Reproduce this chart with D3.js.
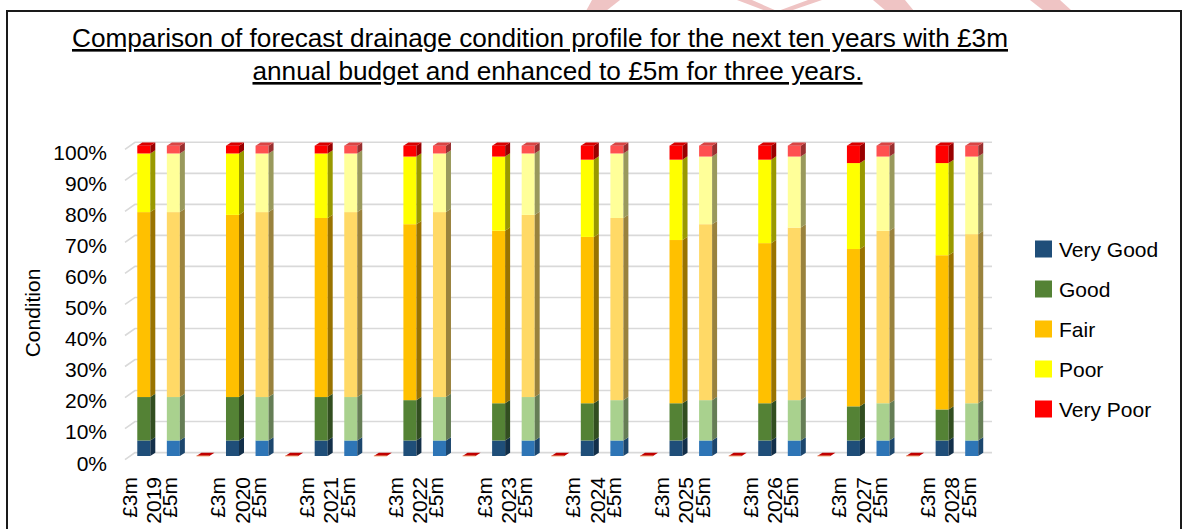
<!DOCTYPE html>
<html>
<head>
<meta charset="utf-8">
<script src="https://cdnjs.cloudflare.com/ajax/libs/d3/7.8.5/d3.min.js"></script>
<style>
  body { margin: 0; background: #fff; }
  svg { display: block; font-family: "Liberation Sans", Arial, sans-serif; }
</style>
</head>
<body>
<div id="chart"></div>
<script>
'use strict';

const years = [2019, 2020, 2021, 2022, 2023, 2024, 2025, 2026, 2027, 2028];
const budgets = ['£3m', '£5m'];
const conditions = ['Very Good', 'Good', 'Fair', 'Poor', 'Very Poor'];

// % of network in each condition, £3m budget
const veryGood3m = [5, 5, 5, 5, 5, 5, 5, 5, 5, 5];
const good3m = [14, 14, 14, 13, 12, 12, 12, 12, 11, 10];
const fair3m = [59.6, 58.7, 57.7, 56.7, 55.6, 53.6, 52.6, 51.6, 50.7, 49.7];
const poor3m = [18.9, 19.8, 20.8, 21.8, 23.9, 24.9, 25.9, 26.9, 27.7, 29.7];
const veryPoor3m = [2.5, 2.5, 2.5, 3.5, 3.5, 4.5, 4.5, 4.5, 5.6, 5.6];

// £5m budget
const veryGood5m = [5, 5, 5, 5, 5, 5, 5, 5, 5, 5];
const good5m = [14, 14, 14, 14, 14, 13, 13, 13, 12, 12];
const fair5m = [59.6, 59.6, 59.6, 59.6, 58.7, 58.7, 56.7, 55.6, 55.6, 54.5];
const poor5m = [18.9, 18.9, 18.9, 18.9, 19.8, 20.8, 21.8, 22.9, 23.9, 25];
const veryPoor5m = [2.5, 2.5, 2.5, 2.5, 2.5, 2.5, 3.5, 3.5, 3.5, 3.5];

const yTicks = [0, 10, 20, 30, 40, 50, 60, 70, 80, 90, 100];

const colors3m = ['#1f4e79', '#548235', '#ffc000', '#ffff00', '#ff0000'];
const colors5m = ['#2e75b6', '#a9d18e', '#ffd966', '#ffff99', '#ff5050'];

const series = {
  '£3m': [veryGood3m, good3m, fair3m, poor3m, veryPoor3m],
  '£5m': [veryGood5m, good5m, fair5m, poor5m, veryPoor5m],
};

const W = 1187;
const H = 529;
const depthX = 5;
const depthY = -3.3;
const fontSize = 21;

const shade = (c, k) => {
  const r = d3.rgb(c);
  return d3.rgb(r.r * k, r.g * k, r.b * k).formatHex();
};

// slots: £3m, £5m, empty gap between years
const slots = [];
years.forEach((yr, i) => {
  budgets.forEach((b) => slots.push({ key: yr + b, year: yr, budget: b }));
  if (i < years.length - 1) slots.push({ key: yr + 'gap', year: yr, budget: null });
});

const rows = slots.filter((s) => s.budget).map((s) => {
  const yi = years.indexOf(s.year);
  const row = { key: s.key, year: s.year, budget: s.budget };
  conditions.forEach((c, ci) => { row[c] = series[s.budget][ci][yi]; });
  return row;
});

const stacked = d3.stack().keys(conditions)(rows);

const svg = d3.select('#chart')
  .append('svg')
  .attr('width', W)
  .attr('height', H);

// faint watermark bits peeking over the frame
const wm = svg.append('g').attr('fill', '#efc4c4');
[
  [[592, 0], [620, 0], [606, 11], [586, 11]],
  [[737, 0], [752, 0], [777, 11], [766, 11]],
  [[808, 0], [822, 0], [790, 11], [778, 11]],
  [[873, 0], [905, 0], [914, 11], [886, 11]],
  [[1030, 0], [1060, 0], [1072, 11], [1044, 11]],
].forEach((p) => wm.append('polygon').attr('points', p.join(' ')));

// frame
svg.append('path')
  .attr('d', `M7,${H} V11 H1181 V${H}`)
  .attr('fill', 'none')
  .attr('stroke', '#1a1a1a')
  .attr('stroke-width', 2);

// title
const title = svg.append('g')
  .attr('font-size', 26.2)
  .attr('text-anchor', 'middle')
  .style('text-decoration', 'underline');
title.append('text').attr('x', 540).attr('y', 47)
  .text('Comparison of forecast drainage condition profile for the next ten years with £3m');
title.append('text').attr('x', 557.5).attr('y', 80)
  .text('annual budget and enhanced to £5m for three years.');

const x = d3.scaleBand()
  .domain(slots.map((s) => s.key))
  .range([129, 986.5])
  .paddingInner(0.56)
  .paddingOuter(0.28);

const y = d3.scaleLinear()
  .domain([0, 100])
  .range([456, 145.7]);

// gridlines on the back wall with little floor stubs
const grid = svg.append('g')
  .attr('stroke', '#d9d9d9')
  .attr('stroke-width', 1.6)
  .attr('fill', 'none');
yTicks.forEach((t) => {
  grid.append('path')
    .attr('d', `M125,${y(t) + 3.6} L135,${y(t) - 3.4} H992`);
});

// y labels
svg.append('g')
  .attr('font-size', fontSize)
  .attr('text-anchor', 'end')
  .selectAll('text')
  .data(yTicks)
  .join('text')
  .attr('x', 107)
  .attr('y', (t) => y(t) + 7)
  .attr('dominant-baseline', 'central')
  .text((t) => t + '%');

svg.append('text')
  .attr('transform', 'translate(32,313) rotate(-90)')
  .attr('text-anchor', 'middle')
  .attr('dominant-baseline', 'central')
  .attr('font-size', fontSize)
  .text('Condition');

// empty gap slots show a flat zero-height top
const gaps = svg.append('g');
slots.filter((s) => !s.budget).forEach((s) => {
  const x0 = x(s.key);
  const w = x.bandwidth();
  const y0 = y(0);
  gaps.append('polygon')
    .attr('points', [[x0, y0], [x0 + w, y0], [x0 + w + depthX, y0 + depthY], [x0 + depthX, y0 + depthY]].join(' '))
    .attr('fill', '#c00000');
  gaps.append('line')
    .attr('x1', x0).attr('x2', x0 + w)
    .attr('y1', y0).attr('y2', y0)
    .attr('stroke', '#f4b183')
    .attr('stroke-width', 1);
});

// 3D stacked bars
const bars = svg.append('g');
stacked.forEach((layer, li) => {
  layer.forEach((d, ri) => {
    const row = rows[ri];
    const col = (row.budget === '£3m' ? colors3m : colors5m)[li];
    const x0 = x(row.key);
    const w = x.bandwidth();
    const yTop = y(d[1]);
    const yBot = y(d[0]);
    bars.append('rect')
      .attr('x', x0)
      .attr('y', yTop)
      .attr('width', w)
      .attr('height', yBot - yTop)
      .attr('fill', col);
    bars.append('polygon')
      .attr('points', [[x0 + w, yTop], [x0 + w + depthX, yTop + depthY],
        [x0 + w + depthX, yBot + depthY], [x0 + w, yBot]].join(' '))
      .attr('fill', shade(col, 0.6));
    if (li === conditions.length - 1) {
      bars.append('polygon')
        .attr('points', [[x0, yTop], [x0 + depthX, yTop + depthY],
          [x0 + w + depthX, yTop + depthY], [x0 + w, yTop]].join(' '))
        .attr('fill', shade(col, 0.85));
    }
  });
});

// x labels: budget under each bar, year between them
const xl = svg.append('g')
  .attr('font-size', fontSize)
  .attr('text-anchor', 'end')
  .attr('dominant-baseline', 'central');
const rotLabel = (cx, txt) => xl.append('text')
  .attr('transform', `translate(${cx},477) rotate(-90)`)
  .text(txt);
years.forEach((yr) => {
  const a = x(yr + '£3m');
  const b = x(yr + '£5m');
  rotLabel(a - 8, '£3m');
  rotLabel((a + b) / 2 + 1.5, String(yr));
  rotLabel(b + 3, '£5m');
});

// legend
const legend = svg.append('g')
  .selectAll('g')
  .data(conditions)
  .join('g')
  .attr('transform', (c, i) => `translate(1035,${249 + 40 * i})`);
legend.append('rect')
  .attr('x', 0)
  .attr('y', -8.5)
  .attr('width', 17)
  .attr('height', 17)
  .attr('fill', (c, i) => colors3m[i]);
legend.append('text')
  .attr('x', 24)
  .attr('y', 0)
  .attr('dominant-baseline', 'central')
  .attr('font-size', fontSize)
  .text((c) => c);
</script>
</body>
</html>
